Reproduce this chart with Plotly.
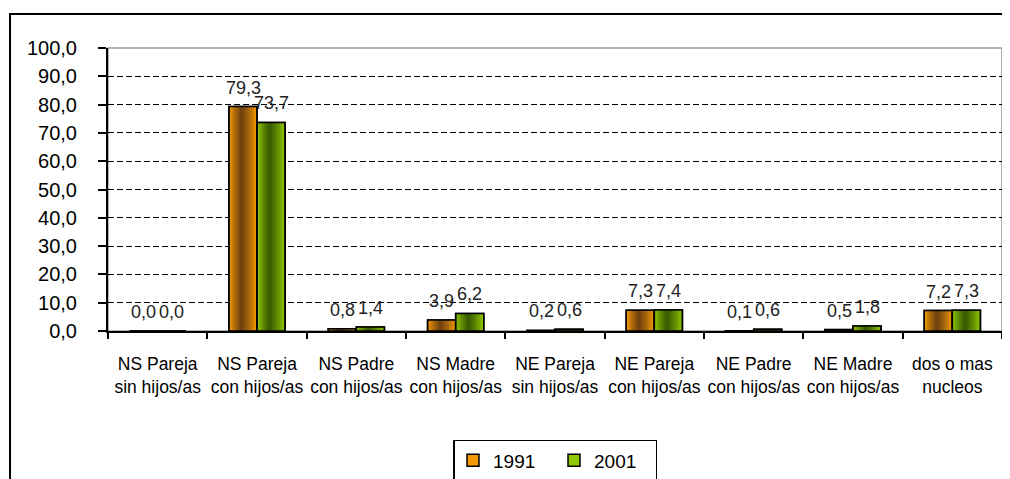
import plotly.graph_objects as go

categories = [
    "NS Pareja<br>sin hijos/as", "NS Pareja<br>con hijos/as", "NS Padre<br>con hijos/as",
    "NS Madre<br>con hijos/as", "NE Pareja<br>sin hijos/as", "NE Pareja<br>con hijos/as",
    "NE Padre<br>con hijos/as", "NE Madre<br>con hijos/as", "dos o mas<br>nucleos",
]
series_names = ["1991", "2001"]
values_1991 = [0.0, 79.3, 0.8, 3.9, 0.2, 7.3, 0.1, 0.5, 7.2]
values_2001 = [0.0, 73.7, 1.4, 6.2, 0.6, 7.4, 0.6, 1.8, 7.3]
y_ticks = [0, 10, 20, 30, 40, 50, 60, 70, 80, 90, 100]

FONT = "Liberation Sans, Arial, sans-serif"
W = 0.283  # bar width in category units
N = 9      # gradient layers


def hex2rgb(h):
    h = h.lstrip("#")
    return [int(h[i:i + 2], 16) for i in (0, 2, 4)]


def mix(a, b, t):
    ca, cb = hex2rgb(a), hex2rgb(b)
    return "rgb(%d,%d,%d)" % tuple(round(x + (y - x) * t) for x, y in zip(ca, cb))


styles = [
    dict(edge="#F59A00", center="#744410", left=-W, shift=-14),
    dict(edge="#92C800", center="#3A5E00", left=0.0, shift=14),
]

fig = go.Figure()
annotations = []
for name, vals, st in zip(series_names, [values_1991, values_2001], styles):
    for k in range(N):
        frac = 1 - k / N
        w = W * frac
        off = st["left"] + (W - w) * 0.45
        t = (k / (N - 1)) ** 0.8
        fig.add_trace(go.Bar(
            x=categories, y=vals, width=w, offset=off,
            marker=dict(color=mix(st["edge"], st["center"], t),
                        line=dict(color="black", width=1.5 if k == 0 else 0)),
            name=name, showlegend=(k == 0), legendgroup=name,
            hoverinfo="skip" if k else None,
        ))
    fig.add_trace(go.Bar(
        x=categories, y=vals, width=W, offset=st["left"],
        marker=dict(color="rgba(0,0,0,0)", line=dict(color="black", width=1.5)),
        showlegend=False, legendgroup=name, name=name, hoverinfo="skip",
    ))
    for c, v in zip(categories, vals):
        annotations.append(dict(
            x=c, y=v, xref="x", yref="y", text=f"{v:.1f}".replace(".", ","),
            showarrow=False, xshift=st["shift"], yshift=19, yanchor="middle",
            font=dict(family=FONT, size=18, color="#222"),
        ))

fig.update_layout(
    width=1002, height=471,
    margin=dict(l=100, r=8, t=40, b=148, autoexpand=False),
    barmode="overlay",
    separators=",.",
    paper_bgcolor="white", plot_bgcolor="white",
    font=dict(family=FONT, color="black"),
    showlegend=True,
    annotations=annotations,
    legend=dict(
        orientation="h", x=0.5, xanchor="center", y=-0.385, yanchor="top",
        font=dict(family=FONT, size=19, color="black"),
        bordercolor="black", borderwidth=1.5,
        entrywidth=56, entrywidthmode="pixels",
        itemwidth=30,
    ),
    shapes=[
        dict(type="rect", xref="paper", yref="paper", x0=0, x1=1, y0=0, y1=1,
             line=dict(color="#999999", width=1.5), layer="below"),
        dict(type="rect", xref="paper", yref="paper", x0=-0.1096, x1=1.012,
             y0=-0.6, y1=1.12, line=dict(color="black", width=2), layer="above"),
    ],
)
fig.update_xaxes(
    type="category", tickson="boundaries", ticks="outside", ticklen=6,
    tickcolor="black", tickwidth=1.5, tickangle=0, automargin=False,
    showline=True, linecolor="black", linewidth=2, showgrid=False,
    tickfont=dict(family=FONT, size=17.5, color="black"),
    ticklabelstandoff=16,
    range=[-0.5, 8.5],
)
fig.update_yaxes(
    range=[0, 100], tickvals=y_ticks, tickformat=".1f", automargin=False,
    ticks="outside", ticklen=8, tickcolor="black", tickwidth=1.5,
    showline=True, linecolor="black", linewidth=2,
    showgrid=True, gridcolor="black", gridwidth=1.3, griddash="6px,3px",
    tickfont=dict(family=FONT, size=20, color="black"),
    ticklabelstandoff=17,
    zeroline=False,
)

fig.write_html("out.html")
